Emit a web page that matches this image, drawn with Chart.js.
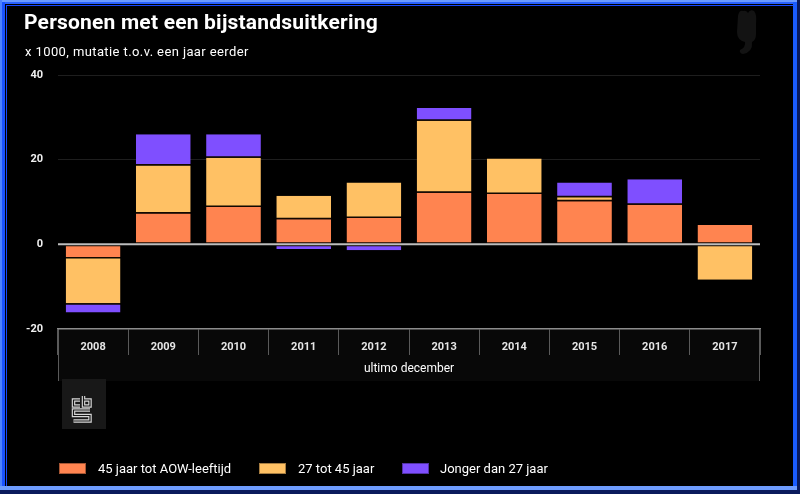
<!DOCTYPE html>
<html><head><meta charset="utf-8">
<script src="https://cdn.jsdelivr.net/npm/chart.js@4"></script>
<style>
html,body{margin:0;padding:0;background:#000;width:800px;height:494px;overflow:hidden;font-family:Roboto,'Noto Sans',sans-serif;}
#wrap{position:relative;width:800px;height:494px;}
canvas{position:absolute;left:0;top:0;}
.f{position:absolute;}
#title{position:absolute;left:24px;top:12px;font-size:21px;line-height:21px;font-weight:bold;color:#fff;white-space:nowrap;letter-spacing:0.2px;}
#sub{position:absolute;left:25px;top:45px;font-size:13px;line-height:13px;color:#fff;white-space:nowrap;letter-spacing:0.4px;}
.lg{position:absolute;top:463px;width:27px;height:11px;box-sizing:border-box;border:1px solid rgba(0,0,0,0.35);}
.lt{position:absolute;top:462px;font-size:13px;line-height:13px;color:#fff;white-space:nowrap;}
</style></head>
<body><div id="wrap">
<canvas id="c" width="800" height="494"></canvas>
<div id="title">Personen met een bijstandsuitkering</div>
<div id="sub">x 1000, mutatie t.o.v. een jaar eerder</div>
<div id="legend"></div>
<div class="f" style="left:0;top:0;width:800px;height:2px;background:#6b9bff"></div>
<div class="f" style="left:0;top:2px;width:800px;height:2px;background:#2a62ff"></div>
<div class="f" style="left:6px;top:5px;width:787px;height:1px;background:#1648ff"></div>
<div class="f" style="left:0;top:0;width:2px;height:494px;background:#4d82ff"></div>
<div class="f" style="left:2px;top:2px;width:3px;height:490px;background:#1a52ff"></div>
<div class="f" style="left:6px;top:5px;width:1px;height:481px;background:#1648ff"></div>
<div class="f" style="left:793px;top:2px;width:4px;height:489px;background:#1a5cff"></div>
<div class="f" style="left:797px;top:0;width:3px;height:494px;background:#0a1a5c"></div>
<div class="f" style="left:0;top:486px;width:797px;height:4px;background:#6e9cff"></div>
<div class="f" style="left:0;top:490px;width:800px;height:4px;background:#0a1a5c"></div>
</div>
<script>
const categories = ['2008','2009','2010','2011','2012','2013','2014','2015','2016','2017'];
const age45ToAOW = [-3.0, 7.3, 8.8, 5.9, 6.2, 12.2, 11.9, 10.15, 9.35, 4.55];
const age27to45  = [-10.9, 11.3, 11.65, 5.6, 8.4, 17.0, 8.4, 0.95, 0, -8.35];
const under27    = [-2.2, 7.4, 5.55, -1.1, -1.4, 3.0, 0, 3.5, 6.05, 0];
const yTicks = [-20, 0, 20, 40];
const seriesNames = ['45 jaar tot AOW-leeftijd', '27 tot 45 jaar', 'Jonger dan 27 jaar'];
const seriesColors = ['#FF8450', '#FFC164', '#7F4FFF'];
const legendBoxX = [59, 259, 402];
const legendTextX = [98, 298, 440];

// HTML legend from series
const lgEl = document.getElementById('legend');
seriesNames.forEach((n, i) => {
  const b = document.createElement('div'); b.className = 'lg';
  b.style.left = legendBoxX[i] + 'px'; b.style.background = seriesColors[i];
  const t = document.createElement('div'); t.className = 'lt';
  t.style.left = legendTextX[i] + 'px'; t.textContent = n;
  lgEl.appendChild(b); lgEl.appendChild(t);
});

const sepBorder = ctx => {
  const v = ctx.raw;
  return v >= 0 ? {top:0, right:0, bottom:1.5, left:0} : {top:1.5, right:0, bottom:0, left:0};
};

const decor = {
  id: 'decor',
  beforeDraw(chart) {
    const {ctx, chartArea: a, scales: {x}} = chart;
    ctx.save();
    ctx.fillStyle = '#080808';
    ctx.fillRect(a.left, a.bottom, a.right - a.left, x.bottom - a.bottom);
    ctx.strokeStyle = '#5a5a5a'; ctx.lineWidth = 1;
    ctx.beginPath();
    ctx.moveTo(a.left + 0.5, a.bottom); ctx.lineTo(a.left + 0.5, x.bottom);
    ctx.moveTo(a.right - 0.5, a.bottom); ctx.lineTo(a.right - 0.5, x.bottom);
    ctx.stroke();
    ctx.fillStyle = '#181818';
    ctx.fillRect(62, 379, 44, 50);
    const drawLogo = (w, c) => {
      ctx.strokeStyle = c; ctx.lineWidth = w; ctx.lineJoin = 'miter';
      ctx.beginPath();
      ctx.moveTo(80, 400); ctx.lineTo(73.5, 400); ctx.lineTo(73.5, 406); ctx.lineTo(80, 406);
      ctx.moveTo(83.5, 396); ctx.lineTo(83.5, 406); ctx.lineTo(90, 406); ctx.lineTo(90, 400); ctx.lineTo(83.5, 400);
      ctx.moveTo(90, 410); ctx.lineTo(73.5, 410); ctx.lineTo(73.5, 415.5); ctx.lineTo(90, 415.5); ctx.lineTo(90, 421); ctx.lineTo(73.5, 421);
      ctx.stroke();
    };
    drawLogo(3.5, '#d8d8d8');
    drawLogo(1.2, '#181818');
    ctx.fillStyle = '#131313';
    ctx.beginPath();
    ctx.moveTo(738, 16);
    ctx.quadraticCurveTo(739, 10, 743, 11);
    ctx.quadraticCurveTo(746, 10, 748, 13);
    ctx.quadraticCurveTo(750, 9, 754, 11);
    ctx.quadraticCurveTo(757, 14, 756, 24);
    ctx.lineTo(756, 34);
    ctx.quadraticCurveTo(756, 40, 752, 42);
    ctx.quadraticCurveTo(753, 52, 743, 54);
    ctx.quadraticCurveTo(739, 53, 740, 50);
    ctx.quadraticCurveTo(746, 47, 745, 42);
    ctx.quadraticCurveTo(737, 40, 737, 32);
    ctx.closePath();
    ctx.fill();
    ctx.restore();
  },
  afterDatasetsDraw(chart) {
    const {ctx, chartArea: a, scales: {y}} = chart;
    const y0 = y.getPixelForValue(0);
    ctx.save();
    ctx.strokeStyle = '#bdbdbd'; ctx.lineWidth = 2;
    ctx.beginPath(); ctx.moveTo(a.left, y0); ctx.lineTo(a.right, y0); ctx.stroke();
    ctx.restore();
  }
};

Chart.defaults.font.family = "Roboto, 'Noto Sans', sans-serif";
new Chart(document.getElementById('c'), {
  type: 'bar',
  data: {
    labels: categories,
    datasets: [
      {label: seriesNames[0], data: age45ToAOW, backgroundColor: seriesColors[0]},
      {label: seriesNames[1], data: age27to45, backgroundColor: seriesColors[1]},
      {label: seriesNames[2], data: under27, backgroundColor: seriesColors[2]}
    ].map(d => Object.assign(d, {
      borderColor: '#120800', borderWidth: sepBorder, borderSkipped: false,
      categoryPercentage: 1, barPercentage: 0.78
    }))
  },
  options: {
    responsive: false, animation: false,
    layout: {padding: {left: 18, right: 40, top: 75, bottom: 113}},
    plugins: {legend: {display: false}, tooltip: {enabled: false}, title: {display: false}},
    scales: {
      x: {
        stacked: true, offset: true,
        grid: {offset: true, drawOnChartArea: false, drawTicks: true, tickLength: 26, color: '#5a5a5a', lineWidth: 1},
        border: {display: true, color: '#8c8c8c', width: 1.5},
        ticks: {padding: -14, color: '#e6e6e6', font: {size: 11, weight: 'bold'}, maxRotation: 0, autoSkip: false},
        title: {display: true, text: 'ultimo december', color: '#ffffff', font: {size: 12}, padding: {top: 0, bottom: 5}},
        afterFit: s => { s.height = 52; }
      },
      y: {
        stacked: true, min: -20, max: 40,
        afterBuildTicks: s => { s.ticks = yTicks.map(v => ({value: v})); },
        grid: {drawTicks: false, color: c => (c.tick && (c.tick.value === 0 || c.tick.value === -20)) ? 'rgba(0,0,0,0)' : '#1e1e1e'},
        border: {display: false},
        ticks: {padding: 15, color: '#f0f0f0', font: {size: 11, weight: 'bold'}},
        afterFit: s => { s.width = 40; }
      }
    }
  },
  plugins: [decor]
});
</script>
</body></html>
